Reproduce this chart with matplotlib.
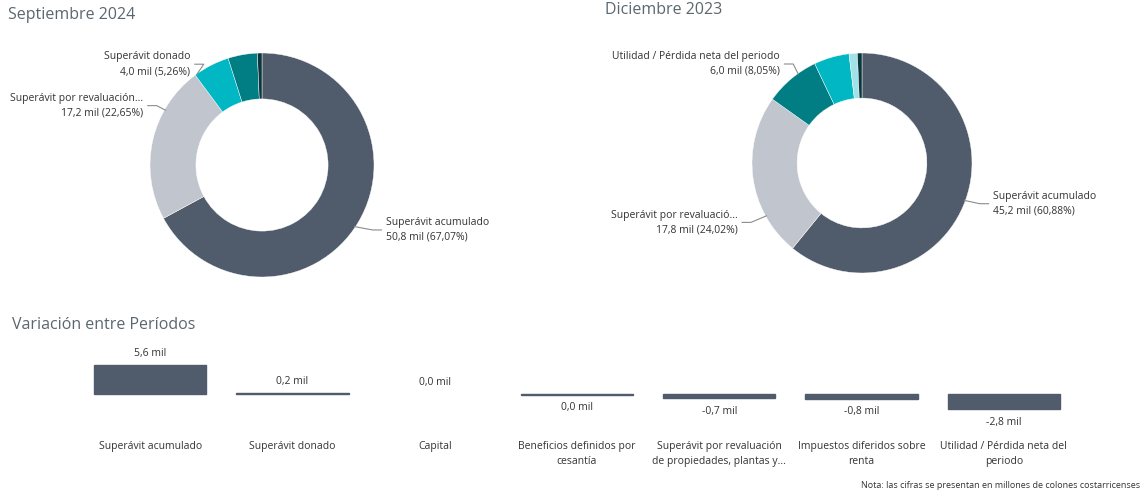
import numpy as np
import matplotlib
matplotlib.use("Agg")
import matplotlib.pyplot as plt

plt.rcParams['font.family'] = ['Open Sans', 'DejaVu Sans']

# Donut: Septiembre 2024
sep_names = ["Superávit acumulado", "Superávit por revaluación...", "Superávit donado",
             "Utilidad / Pérdida neta del periodo", "Capital"]
sep_values = [50.8, 17.2, 4.0, 3.2, 0.5]
sep_pcts = [67.07, 22.65, 5.26, 4.22, 0.66]
sep_colors = ['#505B6B', '#C0C5CE', '#00B7C3', '#017E84', '#0A373C']

# Donut: Diciembre 2023
dic_names = ["Superávit acumulado", "Superávit por revaluació...",
             "Utilidad / Pérdida neta del periodo", "Superávit donado",
             "Impuestos diferidos sobre renta", "Capital"]
dic_values = [45.2, 17.8, 6.0, 3.85, 0.9, 0.5]
dic_pcts = [60.88, 24.02, 8.05, 5.19, 1.21, 0.67]
dic_colors = ['#505B6B', '#C0C5CE', '#017E84', '#00B7C3', '#A0E2E8', '#0A373C']

# Variación entre períodos
var_categories = ["Superávit acumulado", "Superávit donado", "Capital",
                  "Beneficios definidos por\ncesantía",
                  "Superávit por revaluación\nde propiedades, plantas y...",
                  "Impuestos diferidos sobre\nrenta",
                  "Utilidad / Pérdida neta del\nperiodo"]
var_values = [5.6, 0.2, 0.0, -0.04, -0.7, -0.8, -2.8]

W, H = 1147, 496
TXT = '#333333'
TITLE = '#5B6770'
LEAD = '#8C8C8C'


def fmt(v, d=1):
    s = f"{v:.{d}f}"
    if float(s) == 0:
        s = s.lstrip('-')
    return s.replace('.', ',')


fig = plt.figure(figsize=(W / 100, H / 100), dpi=100)


def donut(cx, cy, r, values, colors):
    ax = fig.add_axes([(cx - r) / W, 1 - (cy + r) / H, 2 * r / W, 2 * r / H])
    ax.pie(values, colors=colors, startangle=90, counterclock=False, radius=1,
           wedgeprops=dict(width=0.41, edgecolor='white', linewidth=0.3))
    ax.set_xlim(-1, 1)
    ax.set_ylim(-1, 1)
    ax.axis('off')
    return ax


def label(ax, name, value, pct, tx, ty, drop=0.08):
    side = 1 if tx > 0 else -1
    ay = ty - np.sign(ty) * drop
    axx = side * np.sqrt(1 - ay ** 2) * 0.99
    ax.plot([axx, tx - side * 0.12, tx - side * 0.04], [ay, ty, ty],
            color=LEAD, lw=0.8, clip_on=False)
    ax.text(tx, ty, f"{name}\n{fmt(value)} mil ({fmt(pct, 2)}%)",
            ha='left' if side > 0 else 'right', va='center', fontsize=7.5,
            color=TXT, linespacing=1.45, clip_on=False)


ax1 = donut(262, 165, 112, sep_values, sep_colors)
label(ax1, sep_names[0], sep_values[0], sep_pcts[0], 1.107, -0.58, 0.03)
label(ax1, sep_names[1], sep_values[1], sep_pcts[1], -1.06, 0.53, 0.04)
label(ax1, sep_names[2], sep_values[2], sep_pcts[2], -0.64, 0.90, 0.09)

ax2 = donut(862, 163, 110, dic_values, dic_colors)
label(ax2, dic_names[0], dic_values[0], dic_pcts[0], 1.19, -0.37, 0.03)
label(ax2, dic_names[1], dic_values[1], dic_pcts[1], -1.13, -0.54, 0.06)
label(ax2, dic_names[2], dic_values[2], dic_pcts[2], -0.745, 0.90, 0.09)

fig.text(8 / W, 1 - 15 / H, "Septiembre 2024", fontsize=11.5, color=TITLE, va='center')
fig.text(605 / W, 1 - 10 / H, "Diciembre 2023", fontsize=11.5, color=TITLE, va='center')
fig.text(12 / W, 1 - 325 / H, "Variación entre Períodos", fontsize=11.5, color=TITLE, va='center')

# bar chart
axb = fig.add_axes([79 / W, 1 - 430 / H, 996 / W, 90 / H])
x = np.arange(len(var_values))
lw = [0 if v == 0 else 1.0 for v in var_values]
axb.bar(x, var_values, width=0.79, color='#505B6B', edgecolor='#505B6B', linewidth=lw)
axb.set_xlim(-0.5, len(var_values) - 0.5)
axb.set_ylim(-6.83, 10.48)
for xi, v in zip(x, var_values):
    off = 8.5 if v >= 0 else -9.5
    axb.annotate(f"{fmt(v)} mil", (xi, v), xytext=(0, off), textcoords='offset points',
                 ha='center', va='center', fontsize=7.5, color=TXT)
axb.set_xticks(x)
axb.set_xticklabels(var_categories, fontsize=7.5, color=TXT, linespacing=1.45, va='top')
axb.tick_params(axis='x', length=0, pad=8)
axb.set_yticks([])
for s in axb.spines.values():
    s.set_visible(False)
axb.patch.set_alpha(0)

fig.text(1140 / W, 1 - 486 / H,
         "Nota: las cifras se presentan en millones de colones costarricenses",
         fontsize=6.5, color=TXT, ha='right', va='center')

fig.savefig("out.png", dpi=100, facecolor='white')
